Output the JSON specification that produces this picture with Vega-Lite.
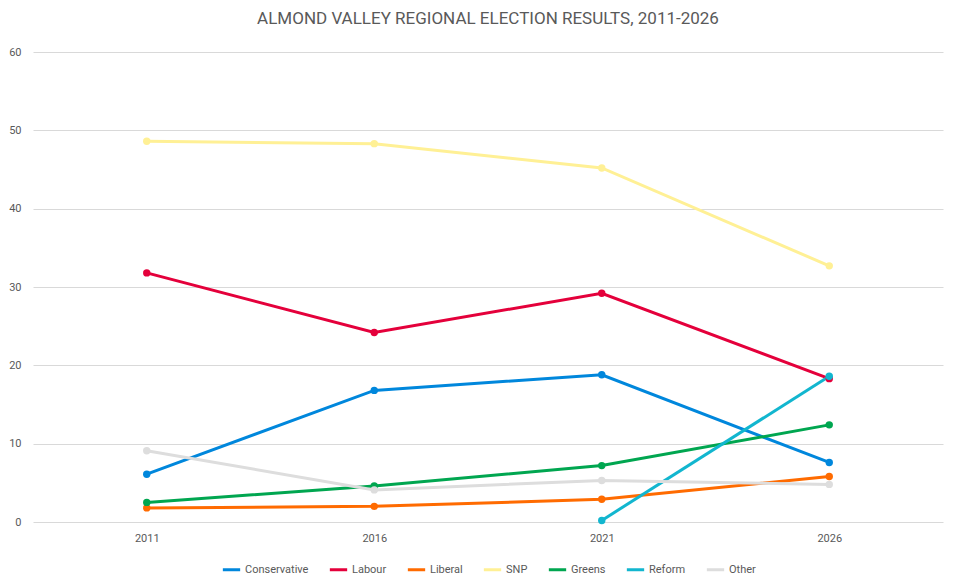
{
  "$schema": "https://vega.github.io/schema/vega-lite/v6.json",
  "width": 960,
  "height": 588,
  "autosize": {"type": "fit", "contains": "padding"},
  "padding": {"left": 8, "right": 17, "top": 10, "bottom": 12},
  "background": "white",
  "title": {
    "text": "ALMOND VALLEY REGIONAL ELECTION RESULTS, 2011-2026",
    "fontSize": 17,
    "fontWeight": "normal",
    "font": "Roboto",
    "color": "#595959",
    "offset": 18
  },
  "config": {
    "view": {"stroke": null},
    "font": "Roboto",
    "legend": {"layout": {"bottom": {"anchor": "middle"}}}
  },
  "data": {
    "values": [
      {"Year": "2011", "Party": "Conservative", "Share": 6.1},
      {"Year": "2016", "Party": "Conservative", "Share": 16.8},
      {"Year": "2021", "Party": "Conservative", "Share": 18.8},
      {"Year": "2026", "Party": "Conservative", "Share": 7.6},
      {"Year": "2011", "Party": "Labour", "Share": 31.8},
      {"Year": "2016", "Party": "Labour", "Share": 24.2},
      {"Year": "2021", "Party": "Labour", "Share": 29.2},
      {"Year": "2026", "Party": "Labour", "Share": 18.3},
      {"Year": "2011", "Party": "Liberal", "Share": 1.8},
      {"Year": "2016", "Party": "Liberal", "Share": 2.0},
      {"Year": "2021", "Party": "Liberal", "Share": 2.9},
      {"Year": "2026", "Party": "Liberal", "Share": 5.8},
      {"Year": "2011", "Party": "SNP", "Share": 48.6},
      {"Year": "2016", "Party": "SNP", "Share": 48.3},
      {"Year": "2021", "Party": "SNP", "Share": 45.2},
      {"Year": "2026", "Party": "SNP", "Share": 32.7},
      {"Year": "2011", "Party": "Greens", "Share": 2.5},
      {"Year": "2016", "Party": "Greens", "Share": 4.6},
      {"Year": "2021", "Party": "Greens", "Share": 7.2},
      {"Year": "2026", "Party": "Greens", "Share": 12.4},
      {"Year": "2021", "Party": "Reform", "Share": 0.2},
      {"Year": "2026", "Party": "Reform", "Share": 18.6},
      {"Year": "2011", "Party": "Other", "Share": 9.1},
      {"Year": "2016", "Party": "Other", "Share": 4.1},
      {"Year": "2021", "Party": "Other", "Share": 5.3},
      {"Year": "2026", "Party": "Other", "Share": 4.8}
    ]
  },
  "mark": {
    "type": "line",
    "point": {"filled": true, "size": 55},
    "strokeWidth": 3
  },
  "encoding": {
    "x": {
      "field": "Year",
      "type": "ordinal",
      "scale": {"type": "point", "padding": 0.5},
      "axis": {
        "title": null,
        "labelAngle": 0,
        "labelColor": "#595959",
        "labelFontSize": 11,
        "labelPadding": 10,
        "ticks": false,
        "domain": false
      }
    },
    "y": {
      "field": "Share",
      "type": "quantitative",
      "scale": {"domain": [0, 60]},
      "axis": {
        "title": null,
        "values": [0, 10, 20, 30, 40, 50, 60],
        "labelColor": "#595959",
        "labelFontSize": 11,
        "labelPadding": 12,
        "ticks": false,
        "domain": false,
        "gridColor": "#d9d9d9",
        "gridWidth": 1
      }
    },
    "color": {
      "field": "Party",
      "type": "nominal",
      "sort": ["Conservative", "Labour", "Liberal", "SNP", "Greens", "Reform", "Other"],
      "scale": {
        "domain": ["Conservative", "Labour", "Liberal", "SNP", "Greens", "Reform", "Other"],
        "range": ["#0087DC", "#E4003B", "#FF6B00", "#FFF095", "#00A650", "#12B6CF", "#DDDDDD"]
      },
      "legend": {
        "orient": "bottom",
        "title": null,
        "direction": "horizontal",
        "symbolType": "stroke",
        "symbolStrokeWidth": 3,
        "symbolSize": 300,
        "labelColor": "#595959",
        "labelFontSize": 11,
        "labelOffset": 3,
        "columnPadding": 14,
        "offset": 16
      }
    }
  }
}
